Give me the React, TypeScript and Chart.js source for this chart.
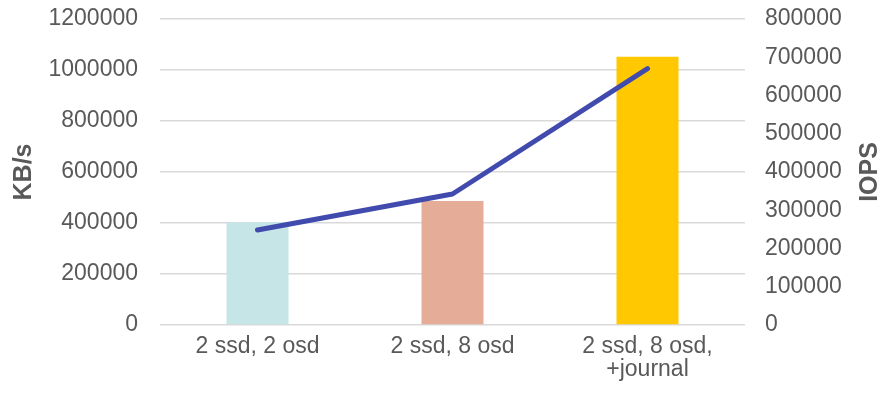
import React, { useEffect, useRef } from "react";
import { Chart, registerables } from "chart.js";

Chart.register(...registerables);

const categories: (string | string[])[] = ["2 ssd, 2 osd", "2 ssd, 8 osd", ["2 ssd, 8 osd,", "+journal"]];
const kbpsValues = [402700, 486300, 1052000];
const iopsValues = [248400, 342500, 670000];
const barColors = ["#C5E5E7", "#E5AD98", "#FFC800"];
const lineColor = "#414AAD";
const leftTitle = "KB/s";
const rightTitle = "IOPS";
const leftMax = 1200000;
const leftStep = 200000;
const rightMax = 800000;
const rightStep = 100000;

const FONT = "'Liberation Sans', Arial, sans-serif";
const TEXT = "#595959";

const rightTitlePlugin = {
  id: "rightTitle",
  afterDraw(chart: any) {
    const s = chart.scales.y1;
    const ctx = chart.ctx;
    ctx.save();
    ctx.translate(s.right - 15, (chart.chartArea.top + chart.chartArea.bottom) / 2);
    ctx.rotate(-Math.PI / 2);
    ctx.fillStyle = TEXT;
    ctx.font = `bold 25px ${FONT}`;
    ctx.textAlign = "center";
    ctx.textBaseline = "middle";
    ctx.fillText(rightTitle, 0, 0);
    ctx.restore();
  },
};

export default function App() {
  const ref = useRef<HTMLCanvasElement | null>(null);
  useEffect(() => {
    if (!ref.current) return;
    const chart = new Chart(ref.current, {
      type: "bar",
      data: {
        labels: categories,
        datasets: [
          {
            type: "line",
            label: rightTitle,
            data: iopsValues,
            yAxisID: "y1",
            borderColor: lineColor,
            backgroundColor: lineColor,
            borderWidth: 5,
            pointRadius: 0,
            borderCapStyle: "round",
            borderJoinStyle: "round",
            tension: 0,
            order: 0,
          } as any,
          {
            type: "bar",
            label: leftTitle,
            data: kbpsValues,
            yAxisID: "y",
            backgroundColor: barColors,
            categoryPercentage: 1,
            barPercentage: 0.318,
            order: 1,
          },
        ],
      },
      plugins: [rightTitlePlugin],
      options: {
        animation: false,
        responsive: true,
        maintainAspectRatio: false,
        layout: { padding: { top: 19, left: 0, right: 0, bottom: 0 } },
        plugins: { legend: { display: false }, tooltip: { enabled: false } },
        scales: {
          x: {
            grid: { display: false, drawTicks: false },
            border: { display: false },
            ticks: {
              color: TEXT,
              font: { family: FONT, size: 23, lineHeight: 1.0 },
              padding: 10,
              maxRotation: 0,
              autoSkip: false,
            },
            afterFit: (s: any) => {
              s.height = 68;
              s.paddingLeft = 0;
              s.paddingRight = 0;
            },
          },
          y: {
            position: "left",
            min: 0,
            max: leftMax,
            grid: { color: "#D9D9D9", lineWidth: 1.5, drawTicks: false },
            border: { display: false },
            ticks: {
              stepSize: leftStep,
              color: TEXT,
              font: { family: FONT, size: 23 },
              padding: 22,
              callback: (v: any) => String(v),
            },
            title: {
              display: true,
              text: leftTitle,
              color: TEXT,
              font: { family: FONT, size: 25, weight: "bold", lineHeight: 1.0 },
              padding: { top: 12, bottom: 0 },
            },
            afterFit: (s: any) => {
              s.width = 160;
              s.paddingTop = 0;
              s.paddingBottom = 0;
            },
          },
          y1: {
            position: "right",
            min: 0,
            max: rightMax,
            grid: { display: false, drawTicks: false },
            border: { display: false },
            ticks: {
              stepSize: rightStep,
              color: TEXT,
              font: { family: FONT, size: 23 },
              padding: 20,
              callback: (v: any) => String(v),
            },
            afterFit: (s: any) => {
              s.width = 140;
              s.paddingTop = 0;
              s.paddingBottom = 0;
            },
          },
        },
      },
    });
    return () => chart.destroy();
  }, []);
  return (
    <div style={{ position: "absolute", left: 0, top: 0, width: 885, height: 393, background: "#fff" }}>
      <canvas ref={ref} />
    </div>
  );
}
